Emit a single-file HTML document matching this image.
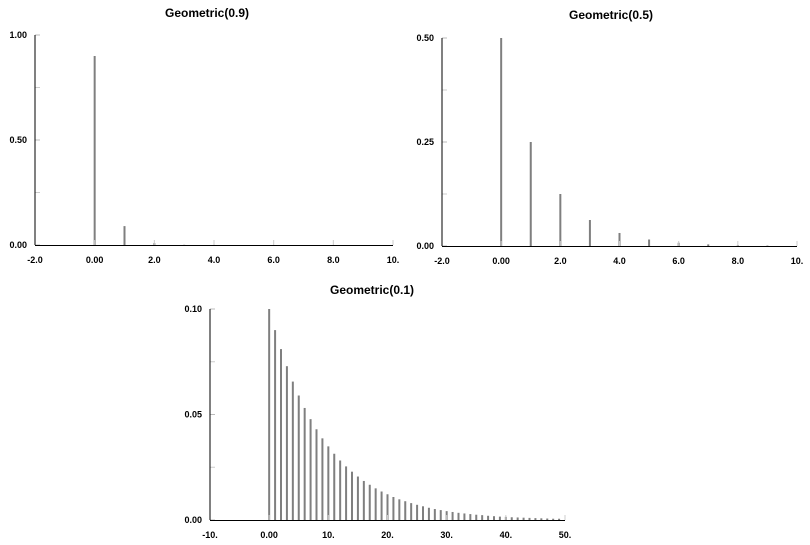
<!DOCTYPE html>
<html><head><meta charset="utf-8"><style>
body{margin:0;background:#fff;}
svg{display:block;font-family:"Liberation Sans",Arial,sans-serif;}
.t{font-size:12px;font-weight:bold;text-anchor:middle;}
.l{font-size:9px;font-weight:bold;}
</style></head><body>
<svg id="s" width="810" height="545" viewBox="0 0 810 545"></svg>
<script>
const cats1=[0,1,2,3,4,5,6,7,8,9];
const vals09=[0.9,0.09,0.009,0.0009,0.0001,0,0,0,0,0];
const vals05=[0.5,0.25,0.125,0.0625,0.0313,0.0156,0.0078,0.0039,0.002,0.001];
const cats3=[0,1,2,3,4,5,6,7,8,9,10,11,12,13,14,15,16,17,18,19,20,21,22,23,24,25,26,27,28,29,30,31,32,33,34,35,36,37,38,39,40,41,42,43,44,45,46,47,48,49];
const vals01=[0.1,0.09,0.081,0.0729,0.0656,0.059,0.0531,0.0478,0.043,0.0387,0.0349,0.0314,0.0282,0.0254,0.0229,0.0206,0.0185,0.0167,0.015,0.0135,0.0122,0.0109,0.0098,0.0089,0.008,0.0072,0.0065,0.0058,0.0052,0.0047,0.0042,0.0038,0.0034,0.0031,0.0028,0.0025,0.0023,0.002,0.0018,0.0016,0.0015,0.0013,0.0012,0.0011,0.001,0.0009,0.0008,0.0007,0.0006,0.0006];
const xt1=[-2,0,2,4,6,8,10], xl1=["-2.0","0.00","2.0","4.0","6.0","8.0","10."];
const xt3=[-10,0,10,20,30,40,50], xl3=["-10.","0.00","10.","20.","30.","40.","50."];
const yt1=[0,0.5,1], yl1=["0.00","0.50","1.00"], ym1=[0.25,0.75];
const yt2=[0,0.25,0.5], yl2=["0.00","0.25","0.50"], ym2=[0.125,0.375];
const yt3=[0,0.05,0.1], yl3=["0.00","0.05","0.10"], ym3=[0.025,0.075];
const S=document.getElementById('s'),NS='http://www.w3.org/2000/svg';
function mk(t,a,p){const e=document.createElementNS(NS,t);for(const k in a)e.setAttribute(k,a[k]);(p||S).appendChild(e);return e;}
function chart(o){
  const g=mk('g',{});
  
  
  const X=v=>o.x0+(v-o.xmin)/(o.xmax-o.xmin)*(o.x1-o.x0);
  const Y=v=>o.y0-(v/o.ymax)*(o.y0-o.y1);
  const tt=mk('text',{x:o.tx,y:o.ty,class:'t'},g);tt.textContent=o.title;
  
  
  o.cats.forEach((c,i)=>{const h=o.y0-Y(o.vals[i]);
    const r=mk('rect',{x:X(c)-1,y:Y(o.vals[i]),width:2,height:Math.max(h,0),fill:'#7f7f7f'},g);
    
    });
  o.xt.forEach((v,i)=>{mk('line',{x1:X(v),x2:X(v),y1:o.y0,y2:o.y0-5,stroke:'#ccc'},g);
    const t=mk('text',{x:X(v),y:o.y0+18,class:'l','text-anchor':'middle'},g);t.textContent=o.xl[i];
    
    });
  o.yt.forEach((v,i)=>{mk('line',{x1:o.x0,x2:o.x0+5,y1:Y(v),y2:Y(v),stroke:'#bbb'},g);
    const t=mk('text',{x:o.x0-8,y:Y(v)+3,class:'l','text-anchor':'end'},g);t.textContent=o.yl[i];
    
    });
  o.ym.forEach(v=>mk('line',{x1:o.x0,x2:o.x0+5,y1:Y(v),y2:Y(v),stroke:'#ccc'},g));
  mk('line',{x1:o.x0,x2:o.x0,y1:o.y1,y2:o.y0,stroke:'#000'},g);
  mk('line',{x1:o.x0,x2:o.x1,y1:o.y0+0.5,y2:o.y0+0.5,stroke:'#000'},g);
}
chart({name:'chart-geometric-0.9',title:'Geometric(0.9)',tx:207,ty:17,x0:35,x1:393,xmin:-2,xmax:10,y0:245,y1:35,ymax:1,cats:cats1,vals:vals09,xt:xt1,xl:xl1,yt:yt1,yl:yl1,ym:ym1});
chart({name:'chart-geometric-0.5',title:'Geometric(0.5)',tx:611,ty:19,x0:442,x1:797,xmin:-2,xmax:10,y0:246,y1:38,ymax:0.5,cats:cats1,vals:vals05,xt:xt1,xl:xl1,yt:yt2,yl:yl2,ym:ym2});
chart({name:'chart-geometric-0.1',title:'Geometric(0.1)',tx:372,ty:294,x0:210,x1:565,xmin:-10,xmax:50,y0:520,y1:309,ymax:0.1,cats:cats3,vals:vals01,xt:xt3,xl:xl3,yt:yt3,yl:yl3,ym:ym3});
</script>
</body></html>
